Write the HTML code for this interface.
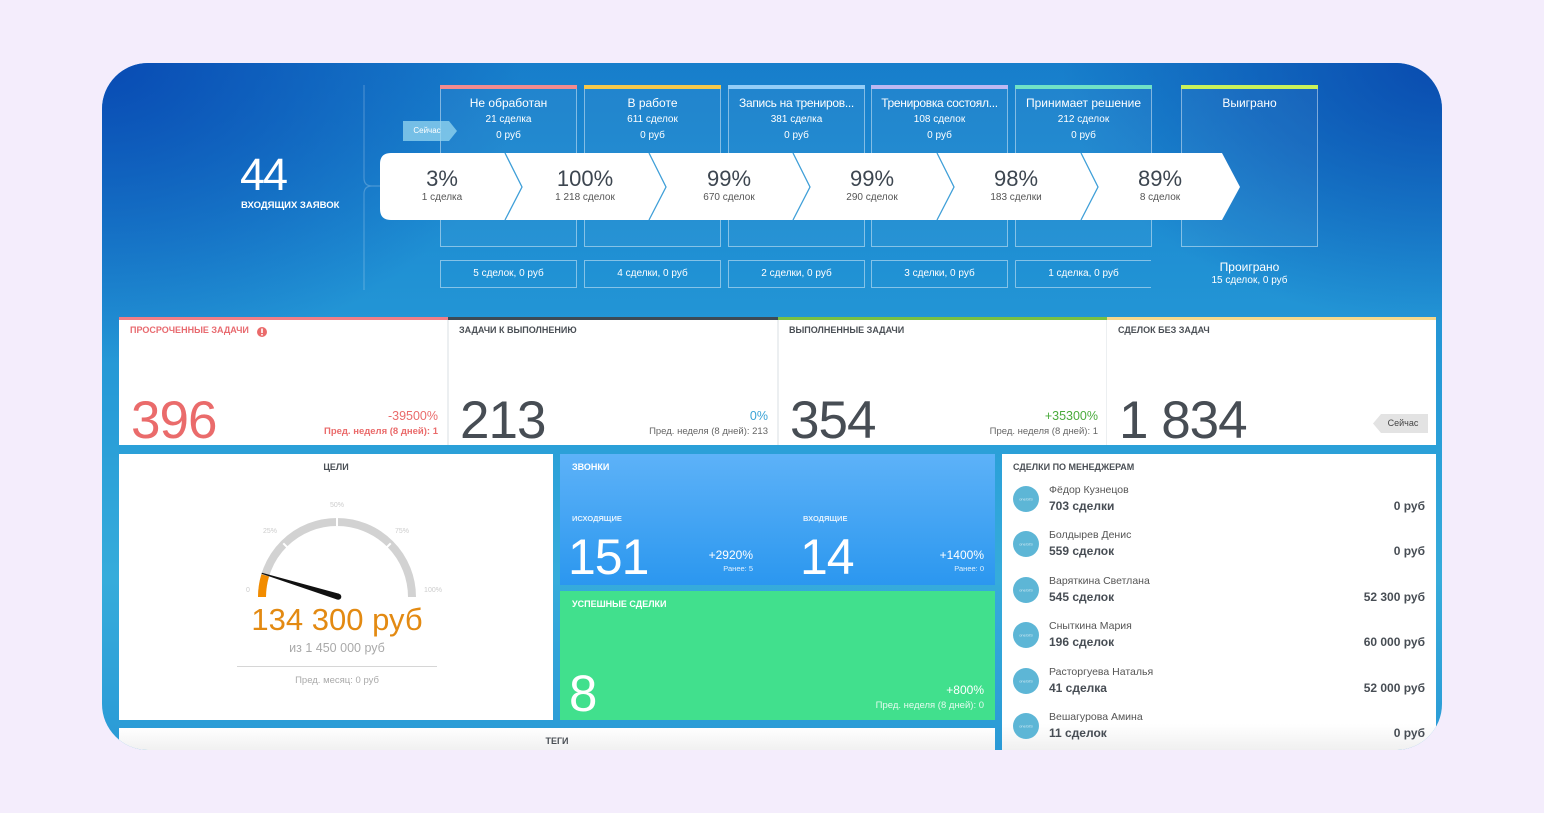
<!DOCTYPE html>
<html><head><meta charset="utf-8">
<style>
*{margin:0;padding:0;box-sizing:border-box}
html,body{width:1544px;height:813px;overflow:hidden;background:#f4edfc;font-family:"Liberation Sans",sans-serif}
#clip{position:absolute;left:0;top:0;width:1544px;height:813px;clip-path:inset(63px 102px 63px 102px round 46px)}
#bg{position:absolute;left:102px;top:63px;width:1340px;height:687px;
background:
radial-gradient(ellipse 420px 300px at 0% 0%, rgba(8,72,178,0.95) 0%, rgba(8,72,178,0) 100%),
radial-gradient(ellipse 380px 260px at 100% 0%, rgba(8,70,172,0.9) 0%, rgba(8,70,172,0) 100%),
linear-gradient(180deg,#177ecb 0%,#2091d4 30%,#2a9fd8 55%,#36acdb 75%,#2a9ad6 100%);}
.t{position:absolute;white-space:nowrap;line-height:1}
.c{text-align:center}
.r{text-align:right}
.w{color:#fff}
.lbl{font-size:9px;font-weight:bold;color:#4a4f55;text-transform:uppercase}
</style></head><body>
<div id="clip">
<div id="bg"></div>

<svg width="1544" height="813" style="position:absolute;left:0;top:0">
  <path d="M364,85 V178 Q364,186 372,186 H380 M364,194 Q364,186 372,186 M364,194 V290" stroke="rgba(255,255,255,0.22)" stroke-width="1.2" fill="none"/>
  <g fill="rgba(255,255,255,0.04)" stroke="rgba(255,255,255,0.45)" stroke-width="1">
    <rect x="440.5" y="85.5" width="136" height="161"/>
    <rect x="584.5" y="85.5" width="136" height="161"/>
    <rect x="728.5" y="85.5" width="136" height="161"/>
    <rect x="871.5" y="85.5" width="136" height="161"/>
    <rect x="1015.5" y="85.5" width="136" height="161"/>
    <rect x="1181.5" y="85.5" width="136" height="161"/>
  </g>
  <rect x="440" y="85" width="137" height="4" fill="#f28b8f"/>
  <rect x="584" y="85" width="137" height="4" fill="#f5c84a"/>
  <rect x="728" y="85" width="137" height="4" fill="#93cdf7"/>
  <rect x="871" y="85" width="137" height="4" fill="#bdb8f2"/>
  <rect x="1015" y="85" width="137" height="4" fill="#70e2c6"/>
  <rect x="1181" y="85" width="137" height="4" fill="#c9f25a"/>
  <g fill="none" stroke="rgba(255,255,255,0.45)" stroke-width="1">
    <rect x="440.5" y="260.5" width="136" height="27"/>
    <rect x="584.5" y="260.5" width="136" height="27"/>
    <rect x="728.5" y="260.5" width="136" height="27"/>
    <rect x="871.5" y="260.5" width="136" height="27"/>
    <path d="M1015.5,260.5 V287.5 M1015.5,260.5 H1151 M1015.5,287.5 H1151"/>
  </g>
  <polygon points="403,121 449,121 457,131 449,141 403,141" fill="rgba(150,215,240,0.75)"/>
  <path d="M391,153 H1222 L1240,187 L1222,220 H391 Q380,220 380,209 V164 Q380,153 391,153 Z" fill="#fff"/>
  <g fill="none" stroke="#3f9fd8" stroke-width="1.3">
    <polyline points="505,153 522,187 505,220"/>
    <polyline points="649,153 666,187 649,220"/>
    <polyline points="793,153 810,187 793,220"/>
    <polyline points="937,153 954,187 937,220"/>
    <polyline points="1081,153 1098,187 1081,220"/>
  </g>

  <rect x="119" y="317" width="1317" height="128" fill="#fff"/>
  <rect x="447" y="320" width="2" height="125" fill="#eceff1"/>
  <rect x="777" y="320" width="2" height="125" fill="#eceff1"/>
  <rect x="1106" y="320" width="1" height="125" fill="#eceff1"/>
  <rect x="119" y="317" width="329" height="3" fill="#f07e86"/>
  <rect x="448" y="317" width="330" height="3" fill="#3d4a55"/>
  <rect x="778" y="317" width="329" height="3" fill="#79c043"/>
  <rect x="1107" y="317" width="329" height="3" fill="#f5d88c"/>
  <circle cx="262" cy="332" r="5" fill="#ea6a6a"/>
  <rect x="261.2" y="328.5" width="1.6" height="4.5" fill="#fff"/>
  <rect x="261.2" y="334" width="1.6" height="1.5" fill="#fff"/>
  <polygon points="1381,414 1428,414 1428,433 1381,433 1373,423.5" fill="#e3e3e3"/>

  <rect x="119" y="454" width="434" height="266" fill="#fff"/>
  <defs>
    <linearGradient id="gb" x1="0" y1="0" x2="0" y2="1"><stop offset="0" stop-color="#5db2f8"/><stop offset="1" stop-color="#2b97ef"/></linearGradient>
    <linearGradient id="gm" x1="0" y1="0" x2="0" y2="1"><stop offset="0" stop-color="#ffffff"/><stop offset="0.9" stop-color="#ffffff"/><stop offset="1" stop-color="#eeeeee"/></linearGradient>
    <linearGradient id="gt" x1="0" y1="0" x2="0" y2="1"><stop offset="0" stop-color="#ffffff"/><stop offset="1" stop-color="#eeeeee"/></linearGradient>
  </defs>
  <rect x="560" y="454" width="435" height="131" fill="url(#gb)"/>
  <rect x="560" y="591" width="435" height="129" fill="#41e08d"/>
  <rect x="1002" y="454" width="434" height="300" fill="url(#gm)"/>
  <rect x="119" y="728" width="876" height="26" fill="url(#gt)"/>

  <path d="M262,597 A75,75 0 0 1 412,597" fill="none" stroke="#d2d2d2" stroke-width="8"/>
  <path d="M262,597 A75,75 0 0 1 265.2,575.4" fill="none" stroke="#f28c00" stroke-width="8"/>
  <g stroke="#fff" stroke-width="2">
    <line x1="283.3" y1="543.3" x2="290.4" y2="550.4"/>
    <line x1="337" y1="516" x2="337" y2="526"/>
    <line x1="390.7" y1="543.3" x2="383.6" y2="550.4"/>
  </g>
  <polygon points="339.2,593.8 261.9,572.8 261.5,573.8 337.4,599.6" fill="#111"/>
  <circle cx="338.3" cy="596.7" r="3" fill="#111"/>
  <line x1="237" y1="666.5" x2="437" y2="666.5" stroke="#d6d6d6" stroke-width="1"/>

  <g fill="#5db6d6">
    <circle cx="1026" cy="499" r="13"/>
    <circle cx="1026" cy="544" r="13"/>
    <circle cx="1026" cy="590" r="13"/>
    <circle cx="1026" cy="635" r="13"/>
    <circle cx="1026" cy="681" r="13"/>
    <circle cx="1026" cy="726" r="13"/>
  </g>
  <g fill="rgba(255,255,255,0.7)" font-family="Liberation Sans, sans-serif" font-size="4" text-anchor="middle">
    <text x="1026" y="500.5">oneGIS</text>
    <text x="1026" y="545.5">oneGIS</text>
    <text x="1026" y="591.5">oneGIS</text>
    <text x="1026" y="636.5">oneGIS</text>
    <text x="1026" y="682.5">oneGIS</text>
    <text x="1026" y="727.5">oneGIS</text>
  </g>
</svg>

<div class="t w" style="left:240px;top:152px;font-size:45px;letter-spacing:-2px">44</div>
<div class="t w" style="left:241px;top:201px;font-size:9.5px;font-weight:bold">ВХОДЯЩИХ ЗАЯВОК</div>
<div class="t w c" style="left:403px;top:127px;width:48px;font-size:8px">Сейчас</div>

<div class="t w c" style="left:440px;top:97px;width:137px;font-size:12px">Не обработан</div>
<div class="t w c" style="left:440px;top:115px;width:137px;font-size:10px">21 сделка</div>
<div class="t w c" style="left:440px;top:131px;width:137px;font-size:10px">0 руб</div>
<div class="t w c" style="left:584px;top:97px;width:137px;font-size:12px">В работе</div>
<div class="t w c" style="left:584px;top:115px;width:137px;font-size:10px">611 сделок</div>
<div class="t w c" style="left:584px;top:131px;width:137px;font-size:10px">0 руб</div>
<div class="t w c" style="left:728px;top:97px;width:137px;font-size:12px;letter-spacing:-0.3px">Запись на трениров...</div>
<div class="t w c" style="left:728px;top:115px;width:137px;font-size:10px">381 сделка</div>
<div class="t w c" style="left:728px;top:131px;width:137px;font-size:10px">0 руб</div>
<div class="t w c" style="left:871px;top:97px;width:137px;font-size:12px;letter-spacing:-0.3px">Тренировка состоял...</div>
<div class="t w c" style="left:871px;top:115px;width:137px;font-size:10px">108 сделок</div>
<div class="t w c" style="left:871px;top:131px;width:137px;font-size:10px">0 руб</div>
<div class="t w c" style="left:1015px;top:97px;width:137px;font-size:12px">Принимает решение</div>
<div class="t w c" style="left:1015px;top:115px;width:137px;font-size:10px">212 сделок</div>
<div class="t w c" style="left:1015px;top:131px;width:137px;font-size:10px">0 руб</div>
<div class="t w c" style="left:1181px;top:97px;width:137px;font-size:12px">Выиграно</div>

<div class="t c" style="left:392px;top:168px;width:100px;font-size:22px;color:#3d4650">3%</div>
<div class="t c" style="left:392px;top:193px;width:100px;font-size:10px;color:#555">1 сделка</div>
<div class="t c" style="left:535px;top:168px;width:100px;font-size:22px;color:#3d4650">100%</div>
<div class="t c" style="left:535px;top:193px;width:100px;font-size:10px;color:#555">1 218 сделок</div>
<div class="t c" style="left:679px;top:168px;width:100px;font-size:22px;color:#3d4650">99%</div>
<div class="t c" style="left:679px;top:193px;width:100px;font-size:10px;color:#555">670 сделок</div>
<div class="t c" style="left:822px;top:168px;width:100px;font-size:22px;color:#3d4650">99%</div>
<div class="t c" style="left:822px;top:193px;width:100px;font-size:10px;color:#555">290 сделок</div>
<div class="t c" style="left:966px;top:168px;width:100px;font-size:22px;color:#3d4650">98%</div>
<div class="t c" style="left:966px;top:193px;width:100px;font-size:10px;color:#555">183 сделки</div>
<div class="t c" style="left:1110px;top:168px;width:100px;font-size:22px;color:#3d4650">89%</div>
<div class="t c" style="left:1110px;top:193px;width:100px;font-size:10px;color:#555">8 сделок</div>

<div class="t w c" style="left:440px;top:269px;width:137px;font-size:10px">5 сделок, 0 руб</div>
<div class="t w c" style="left:584px;top:269px;width:137px;font-size:10px">4 сделки, 0 руб</div>
<div class="t w c" style="left:728px;top:269px;width:137px;font-size:10px">2 сделки, 0 руб</div>
<div class="t w c" style="left:871px;top:269px;width:137px;font-size:10px">3 сделки, 0 руб</div>
<div class="t w c" style="left:1015px;top:269px;width:137px;font-size:10px">1 сделка, 0 руб</div>
<div class="t w c" style="left:1181px;top:261px;width:137px;font-size:12px">Проиграно</div>
<div class="t w c" style="left:1181px;top:276px;width:137px;font-size:10px">15 сделок, 0 руб</div>

<div class="t lbl" style="left:130px;top:326px;color:#e86a6f">ПРОСРОЧЕННЫЕ ЗАДАЧИ</div>
<div class="t lbl" style="left:459px;top:326px">ЗАДАЧИ К ВЫПОЛНЕНИЮ</div>
<div class="t lbl" style="left:789px;top:326px">ВЫПОЛНЕННЫЕ ЗАДАЧИ</div>
<div class="t lbl" style="left:1118px;top:326px">СДЕЛОК БЕЗ ЗАДАЧ</div>

<div class="t" style="left:131px;top:394px;font-size:53px;color:#ea6b6b;letter-spacing:-1px">396</div>
<div class="t" style="left:460px;top:394px;font-size:53px;color:#474d54;letter-spacing:-1px">213</div>
<div class="t" style="left:790px;top:394px;font-size:53px;color:#474d54;letter-spacing:-1px">354</div>
<div class="t" style="left:1119px;top:394px;font-size:53px;color:#474d54;letter-spacing:-1px">1 834</div>

<div class="t r" style="left:300px;top:410px;width:138px;font-size:12.5px;color:#ea6b6b">-39500%</div>
<div class="t r" style="left:250px;top:427px;width:188px;font-size:9.5px;color:#ea6b6b;font-weight:bold">Пред. неделя (8 дней): 1</div>
<div class="t r" style="left:630px;top:410px;width:138px;font-size:12.5px;color:#3aa3d6">0%</div>
<div class="t r" style="left:580px;top:427px;width:188px;font-size:9.5px;color:#666">Пред. неделя (8 дней): 213</div>
<div class="t r" style="left:960px;top:410px;width:138px;font-size:12.5px;color:#4aab3c">+35300%</div>
<div class="t r" style="left:910px;top:427px;width:188px;font-size:9.5px;color:#666">Пред. неделя (8 дней): 1</div>
<div class="t c" style="left:1381px;top:419px;width:44px;font-size:9px;color:#444">Сейчас</div>

<div class="t lbl c" style="left:286px;top:463px;width:100px">ЦЕЛИ</div>
<div class="t c" style="left:237px;top:587px;width:22px;font-size:7px;color:#ccc">0</div>
<div class="t c" style="left:255px;top:528px;width:30px;font-size:7px;color:#ccc">25%</div>
<div class="t c" style="left:322px;top:502px;width:30px;font-size:7px;color:#ccc">50%</div>
<div class="t c" style="left:387px;top:528px;width:30px;font-size:7px;color:#ccc">75%</div>
<div class="t c" style="left:417px;top:587px;width:32px;font-size:7px;color:#ccc">100%</div>
<div class="t c" style="left:187px;top:604px;width:300px;font-size:31px;color:#e38a12">134 300 руб</div>
<div class="t c" style="left:237px;top:642px;width:200px;font-size:12.5px;color:#a9a9a9">из 1 450 000 руб</div>
<div class="t c" style="left:237px;top:676px;width:200px;font-size:9.5px;color:#aaa">Пред. месяц: 0 руб</div>

<div class="t w" style="left:572px;top:463px;font-size:9px;font-weight:bold">ЗВОНКИ</div>
<div class="t" style="left:572px;top:515px;font-size:7.5px;font-weight:bold;color:rgba(255,255,255,0.85)">ИСХОДЯЩИЕ</div>
<div class="t" style="left:803px;top:515px;font-size:7.5px;font-weight:bold;color:rgba(255,255,255,0.85)">ВХОДЯЩИЕ</div>
<div class="t w" style="left:568px;top:532px;font-size:50px;letter-spacing:-1px">151</div>
<div class="t w" style="left:800px;top:532px;font-size:50px;letter-spacing:-1px">14</div>
<div class="t w r" style="left:653px;top:549px;width:100px;font-size:12px">+2920%</div>
<div class="t r" style="left:653px;top:565px;width:100px;font-size:7.5px;color:rgba(255,255,255,0.85)">Ранее: 5</div>
<div class="t w r" style="left:884px;top:549px;width:100px;font-size:12px">+1400%</div>
<div class="t r" style="left:884px;top:565px;width:100px;font-size:7.5px;color:rgba(255,255,255,0.85)">Ранее: 0</div>

<div class="t w" style="left:572px;top:600px;font-size:9px;font-weight:bold">УСПЕШНЫЕ СДЕЛКИ</div>
<div class="t w" style="left:569px;top:668px;font-size:51px">8</div>
<div class="t w r" style="left:884px;top:684px;width:100px;font-size:12px">+800%</div>
<div class="t r" style="left:784px;top:701px;width:200px;font-size:9.5px;color:rgba(255,255,255,0.85)">Пред. неделя (8 дней): 0</div>

<div class="t lbl" style="left:1013px;top:463px">СДЕЛКИ ПО МЕНЕДЖЕРАМ</div>
<div class="t" style="left:1049px;top:485px;font-size:10.5px;color:#555">Фёдор Кузнецов</div>
<div class="t" style="left:1049px;top:500px;font-size:12px;font-weight:bold;color:#474d54">703 сделки</div>
<div class="t r" style="left:1285px;top:500px;width:140px;font-size:12px;font-weight:bold;color:#474d54">0 руб</div>
<div class="t" style="left:1049px;top:530px;font-size:10.5px;color:#555">Болдырев Денис</div>
<div class="t" style="left:1049px;top:545px;font-size:12px;font-weight:bold;color:#474d54">559 сделок</div>
<div class="t r" style="left:1285px;top:545px;width:140px;font-size:12px;font-weight:bold;color:#474d54">0 руб</div>
<div class="t" style="left:1049px;top:576px;font-size:10.5px;color:#555">Варяткина Светлана</div>
<div class="t" style="left:1049px;top:591px;font-size:12px;font-weight:bold;color:#474d54">545 сделок</div>
<div class="t r" style="left:1285px;top:591px;width:140px;font-size:12px;font-weight:bold;color:#474d54">52 300 руб</div>
<div class="t" style="left:1049px;top:621px;font-size:10.5px;color:#555">Сныткина Мария</div>
<div class="t" style="left:1049px;top:636px;font-size:12px;font-weight:bold;color:#474d54">196 сделок</div>
<div class="t r" style="left:1285px;top:636px;width:140px;font-size:12px;font-weight:bold;color:#474d54">60 000 руб</div>
<div class="t" style="left:1049px;top:667px;font-size:10.5px;color:#555">Расторгуева Наталья</div>
<div class="t" style="left:1049px;top:682px;font-size:12px;font-weight:bold;color:#474d54">41 сделка</div>
<div class="t r" style="left:1285px;top:682px;width:140px;font-size:12px;font-weight:bold;color:#474d54">52 000 руб</div>
<div class="t" style="left:1049px;top:712px;font-size:10.5px;color:#555">Вешагурова Амина</div>
<div class="t" style="left:1049px;top:727px;font-size:12px;font-weight:bold;color:#474d54">11 сделок</div>
<div class="t r" style="left:1285px;top:727px;width:140px;font-size:12px;font-weight:bold;color:#474d54">0 руб</div>

<div class="t lbl c" style="left:507px;top:737px;width:100px">ТЕГИ</div>
</div>
</body></html>
